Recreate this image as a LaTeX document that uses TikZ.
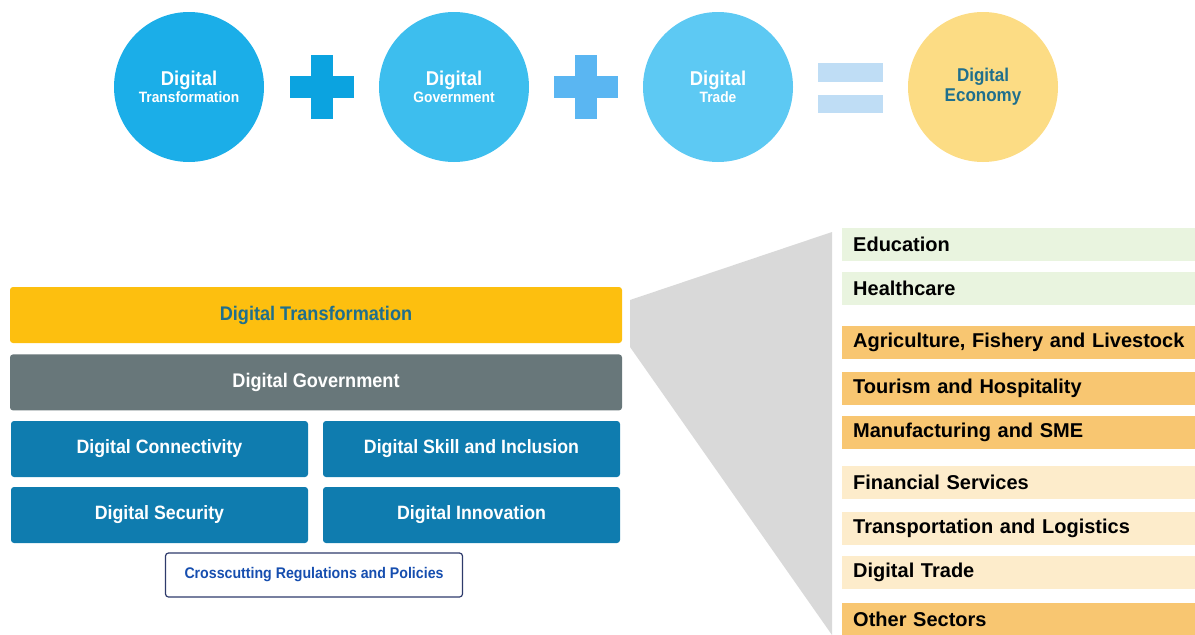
\documentclass[tikz,border=0pt]{standalone}
\usepackage{fontspec}
\setmainfont{Liberation Sans}
\newfontfamily\narrowfont[FakeStretch=0.92]{Liberation Sans}
\usetikzlibrary{positioning}

\definecolor{circA}{HTML}{1BAEE8}
\definecolor{circB}{HTML}{3DBEEE}
\definecolor{circC}{HTML}{5DC9F3}
\definecolor{econ}{HTML}{FCDC84}
\definecolor{plusA}{HTML}{0BA3E0}
\definecolor{plusB}{HTML}{5AB6F2}
\definecolor{eqblue}{HTML}{BFDDF5}
\definecolor{transY}{HTML}{FDBF0F}
\definecolor{govGray}{HTML}{68777A}
\definecolor{pillarBlue}{HTML}{0F7CAF}
\definecolor{navy}{HTML}{2E3B6B}
\definecolor{tealText}{HTML}{1F6F8D}
\definecolor{fanGray}{HTML}{D9D9D9}
\definecolor{barG}{HTML}{E9F4DF}
\definecolor{barO}{HTML}{F8C671}
\definecolor{barC}{HTML}{FDECCB}

\begin{document}
\begin{tikzpicture}[x=1pt,y=-1pt,
    bubble/.style={circle, minimum size=150pt, inner sep=0pt, align=center,
      text=white, font=\narrowfont\bfseries\fontsize{20}{18}\selectfont},
    layer/.style={rectangle, rounded corners=3pt, minimum width=612pt,
      minimum height=56pt, inner sep=0pt,
      font=\narrowfont\bfseries\fontsize{19.7}{22}\selectfont},
    pillar/.style={rectangle, rounded corners=3pt, fill=pillarBlue, text=white,
      minimum width=297pt, minimum height=56pt, inner sep=0pt,
      font=\narrowfont\bfseries\fontsize{19.3}{22}\selectfont},
    sector/.style={rectangle, anchor=north west, minimum width=353pt,
      minimum height=33pt, text width=342pt, inner xsep=5.5pt, inner ysep=0pt,
      align=left, execute at begin node={\hspace*{5.5pt}},
      font=\bfseries\fontsize{20}{22}\selectfont}]
  \useasboundingbox (0,0) rectangle (1195,635);

  % top equation
  \node[bubble, fill=circA] (dt) at (189,87) {Digital\\[-1pt]{\fontsize{15}{15}\selectfont Transformation}};
  \node[bubble, fill=circB] (dg) at (454,87) {Digital\\[-1pt]{\fontsize{15}{15}\selectfont Government}};
  \node[bubble, fill=circC] (dtr) at (718,87) {Digital\\[-1pt]{\fontsize{15}{15}\selectfont Trade}};
  \node[bubble, fill=econ, text=tealText,
    font=\narrowfont\bfseries\fontsize{18.5}{20}\selectfont] (de) at (983,87) {Digital\\Economy};
  \foreach \cx/\c in {322/plusA, 586/plusB} {
    \fill[\c] (\cx-32,76) rectangle (\cx+32,98);
    \fill[\c] (\cx-11,55) rectangle (\cx+11,119);
  }
  \fill[eqblue] (818,63) rectangle (883,82);
  \fill[eqblue] (818,95) rectangle (883,113);

  % zoom fan
  \fill[fanGray] (630,300) -- (832,232) -- (832,635) -- (630,347) -- cycle;

  % layered stack
  \node[layer, fill=transY, text=tealText] (trans) at (316,315) {Digital Transformation};
  \node[layer, fill=govGray, text=white, below=11pt of trans] (gov) {Digital Government};
  \node[pillar] (conn) at (159.5,449) {Digital Connectivity};
  \node[pillar] (skill) at (471.5,449) {Digital Skill and Inclusion};
  \node[pillar] (secu) at (159.5,515) {Digital Security};
  \node[pillar] (innov) at (471.5,515) {Digital Innovation};
  \node[draw=navy, line width=1.2pt, rounded corners=3pt, minimum width=297pt,
    minimum height=44pt, text=tealText!70!blue,
    font=\narrowfont\bfseries\fontsize{15.4}{17}\selectfont] (cross) at (314,575)
    {Crosscutting Regulations and Policies};

  % sectors
  \foreach \y/\c/\t [count=\i] in {228/barG/Education, 272/barG/Healthcare,
      326/barO/{Agriculture, Fishery and Livestock}, 372/barO/Tourism and Hospitality,
      416/barO/Manufacturing and SME, 466/barC/Financial Services,
      512/barC/Transportation and Logistics, 556/barC/Digital Trade,
      603/barO/Other Sectors}
    \node[sector, fill=\c] (sec\i) at (842,\y) {\t};
\end{tikzpicture}
\end{document}
